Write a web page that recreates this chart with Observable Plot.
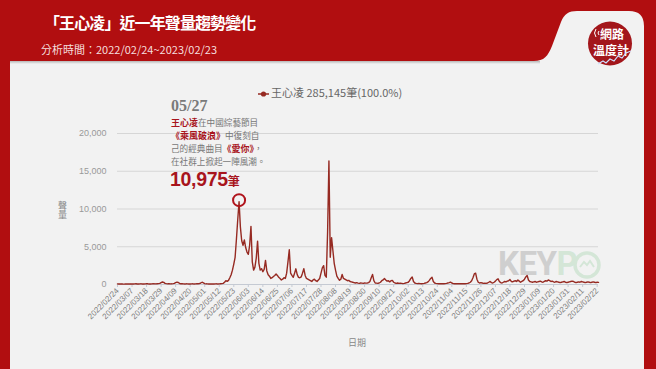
<!DOCTYPE html>
<html>
<head>
<meta charset="utf-8">
<script src="https://cdn.jsdelivr.net/npm/d3@7"></script>
<script src="https://cdn.jsdelivr.net/npm/@observablehq/plot@0.6"></script>
<style>
  html, body { margin: 0; padding: 0; background: #b10e10; }
  #wrap { position: relative; width: 656px; height: 369px; overflow: hidden; font-family: "Noto Sans CJK TC", "Liberation Sans", sans-serif; }
  .abs { position: absolute; white-space: nowrap; }
  #chart svg { position: absolute; left: 0; top: 0; }
  .ann div { height: 13px; line-height: 13px; }
  .ann b { color: #a8141c; font-weight: bold; font-size: 9px; }
</style>
</head>
<body>
<div id="wrap">
  <svg class="abs" style="left:0;top:0" width="656" height="369">
    <defs>
      <linearGradient id="sh" x1="0" y1="0" x2="0" y2="1">
        <stop offset="0" stop-color="#000" stop-opacity="0.25"/>
        <stop offset="1" stop-color="#000" stop-opacity="0"/>
      </linearGradient>
    </defs>
    <rect width="656" height="369" fill="#b10e10"/>
    <path d="M10,61 L534,61 C544,61 548,56 552,46 L561,22 C564,14 569,11 577,11 L629,11 Q644,11 644,26 L644,369 L10,369 Z" fill="#f2f2f2"/>
    <rect x="10" y="61" width="530" height="3" fill="url(#sh)"/>
    <circle cx="610" cy="43.5" r="22" fill="#a3161b"/>
    <text x="612" y="39" fill="#fff" font-size="12" font-weight="bold" text-anchor="middle" font-family="Noto Sans CJK TC">網路</text>
    <text x="611" y="55" fill="#fff" font-size="12" font-weight="bold" text-anchor="middle" font-family="Noto Sans CJK TC">溫度計</text>
    <path d="M596,29 q-3,4 0,8" stroke="#fff" stroke-width="1" fill="none"/>
    <path d="M599,31 q-2,2 0,4" stroke="#fff" stroke-width="1" fill="none"/>
    <polyline points="598,64 603,61 606,63 610,59 614,61 618,56 622,58 626,53 631,51" stroke="#cfe0ff" stroke-width="1.2" fill="none"/>
  </svg>

  <div class="abs" style="left:44px;top:10px;font-size:16px;letter-spacing:-0.9px;color:#fff;font-weight:bold;">「王心凌」近一年聲量趨勢變化</div>
  <div class="abs" style="left:41px;top:41px;font-size:11px;color:#f5dede;">分析時間：2022/02/24~2023/02/23</div>

  <div class="abs" style="left:498px;top:244px;font-family:Roboto,'Liberation Sans';font-weight:bold;font-size:33px;letter-spacing:-0.5px;color:#cfcfcf;line-height:40px;">KEY<span style="color:#d4e6d7">P</span></div>
  <svg class="abs" style="left:572px;top:250px" width="32" height="32">
    <circle cx="15" cy="15" r="12" fill="none" stroke="#d4e6d7" stroke-width="3.5"/>
    <path d="M8,17 L12,12 L15,15 L18,11 L22,17" fill="none" stroke="#d4e6d7" stroke-width="2"/>
  </svg>

  <div id="chart"></div>

  <div class="abs" style="left:258px;top:84px;font-size:11px;color:#666;line-height:16px;">
    <svg width="12" height="10" style="vertical-align:middle;margin-right:1px"><line x1="0" y1="5" x2="11" y2="5" stroke="#962a22" stroke-width="1.5"/><circle cx="5.5" cy="5" r="2.6" fill="#962a22"/></svg>王心凌 285,145筆(100.0%)
  </div>

  <div class="abs" style="left:171px;top:97px;font-family:'Liberation Serif',serif;font-weight:bold;font-size:16px;color:#7a7a7a;">05/27</div>
  <div class="abs ann" style="left:171px;top:116px;font-size:8.6px;color:#777;">
    <div><b>王心凌</b>在中國綜藝節目</div>
    <div><b>《乘風破浪》</b>中復刻自</div>
    <div>己的經典曲目<b>《愛你》</b>，</div>
    <div>在社群上掀起一陣風潮。</div>
  </div>
  <div class="abs" style="left:170px;top:168px;font-family:'Liberation Sans',sans-serif;font-weight:bold;font-size:19.5px;color:#a8141c;letter-spacing:-0.3px;">10,975<span style="font-family:'Noto Sans CJK TC';font-size:12px">筆</span></div>

  <div class="abs" style="left:56px;top:201px;font-size:9px;color:#888;writing-mode:vertical-rl;line-height:12px;">聲量</div>
  <div class="abs" style="left:348px;top:336px;font-size:9px;color:#888;">日期</div>
</div>

<script>
const startDate = "2022/02/24";
const values = [
  80, 60, 70, 90, 60, 50, 70, 80, 60, 70,
  90, 70, 60, 80, 100, 70, 60, 80, 90, 70,
  60, 80, 100, 90, 70, 60, 80, 110, 90, 80,
  100, 120, 150, 250, 330, 280, 150, 110, 90, 100,
  80, 90, 110, 150, 240, 310, 260, 140, 100, 90,
  80, 70, 90, 80, 70, 60, 80, 90, 70, 80,
  90, 100, 120, 200, 300, 220, 120, 90, 80, 70,
  60, 80, 70, 60, 80, 90, 70, 80, 100, 120,
  150, 300, 500, 420, 550, 900, 1300, 1900, 2700, 3600,
  6000, 8600, 10975, 7600, 5800, 5200, 5900, 4900, 4300, 4000,
  5200, 7700, 3000, 1900, 2300, 3500, 5750, 2800, 1900, 2100,
  1700, 2000, 3200, 1800, 1300, 1100, 800, 900, 1060, 1200,
  1400, 1200, 950, 800, 600, 700, 900, 800, 1500, 3000,
  4600, 1500, 1200, 950, 1500, 2080, 1300, 950, 900, 1000,
  1500, 2100, 1200, 800, 700, 600, 500, 400, 600, 700,
  500, 400, 600, 800, 1500, 2200, 2500, 1200, 970, 7000,
  16350, 3600, 6200, 4500, 2800, 1900, 1100, 800, 560, 700,
  1330, 800, 700, 600, 500, 550, 400, 350, 300, 250,
  200, 250, 180, 150, 200, 180, 150, 200, 180, 200,
  250, 400, 900, 1330, 500, 200, 180, 150, 200, 300,
  500, 600, 780, 600, 450, 500, 350, 500, 550, 300,
  200, 150, 200, 150, 180, 150, 120, 150, 200, 250,
  300, 500, 800, 1000, 400, 200, 150, 120, 150, 120,
  100, 120, 150, 200, 250, 350, 550, 800, 950, 400,
  200, 150, 120, 100, 120, 100, 90, 100, 120, 150,
  200, 250, 320, 200, 120, 100, 90, 100, 120, 100,
  90, 100, 110, 100, 120, 150, 200, 300, 500, 900,
  1400, 1500, 700, 300, 200, 250, 200, 150, 180, 150,
  200, 300, 400, 250, 200, 300, 450, 650, 750, 400,
  250, 200, 300, 400, 350, 450, 500, 660, 400, 350,
  450, 500, 400, 600, 450, 300, 400, 500, 700, 1000,
  1200, 600, 400, 350, 300, 350, 400, 300, 350, 400,
  450, 350, 300, 400, 500, 450, 600, 500, 400, 450,
  350, 300, 400, 350, 300, 250, 300, 350, 400, 300,
  250, 300, 350, 400, 450, 400, 300, 250, 300, 350,
  300, 400, 350, 300, 250, 300, 350, 300, 250, 300,
  350, 300, 250, 300, 280
];
const xTickLabels = [
  "2022/02/24","2022/03/07","2022/03/18","2022/03/29","2022/04/09","2022/04/20",
  "2022/05/01","2022/05/12","2022/05/23","2022/06/03","2022/06/14","2022/06/25",
  "2022/07/06","2022/07/17","2022/07/28","2022/08/08","2022/08/19","2022/08/30",
  "2022/09/10","2022/09/21","2022/10/02","2022/10/13","2022/10/24","2022/11/04",
  "2022/11/15","2022/11/26","2022/12/07","2022/12/18","2022/12/29","2023/01/09",
  "2023/01/20","2023/01/31","2023/02/11","2023/02/22"
];
const yTicks = [0, 5000, 10000, 15000, 20000];
const peakLabel = "2022/05/27";

const parse = d3.utcParse("%Y/%m/%d");
const fmt = d3.utcFormat("%Y/%m/%d");
const start = parse(startDate);
const data = values.map((v, i) => ({date: d3.utcDay.offset(start, i), value: v}));
const peak = data.filter(d => fmt(d.date) === peakLabel);
const tickDates = xTickLabels.map(parse);

const chart = Plot.plot({
  width: 656,
  height: 369,
  marginLeft: 117,
  marginRight: 58,
  marginTop: 133,
  marginBottom: 85,
  style: {background: "transparent", fontFamily: "'Liberation Sans', sans-serif", overflow: "visible"},
  x: {type: "utc", domain: [data[0].date, data[data.length - 1].date]},
  y: {domain: [0, 20000]},
  marks: [
    Plot.gridY(yTicks, {stroke: "#d6d6d6", strokeOpacity: 1}),
    Plot.axisY(yTicks, {tickSize: 0, tickPadding: 11, tickFormat: d3.format(","), fill: "#999", fontSize: 9, label: null}),
    Plot.ruleY([0], {stroke: "#c5cad3"}),
    Plot.axisX(tickDates, {tickRotate: -45, tickFormat: fmt, tickSize: 3, stroke: "#c5cad3", fill: "#7e7e7e", fontSize: 8, label: null, tickPadding: 2}),
    Plot.line(data, {x: "date", y: "value", stroke: "#962a22", strokeWidth: 1.4}),
    Plot.dot(peak, {x: "date", y: "value", r: 6, stroke: "#b0141c", strokeWidth: 2, fill: "none", dy: -1.5})
  ]
});
document.getElementById("chart").appendChild(chart);
</script>
</body>
</html>
